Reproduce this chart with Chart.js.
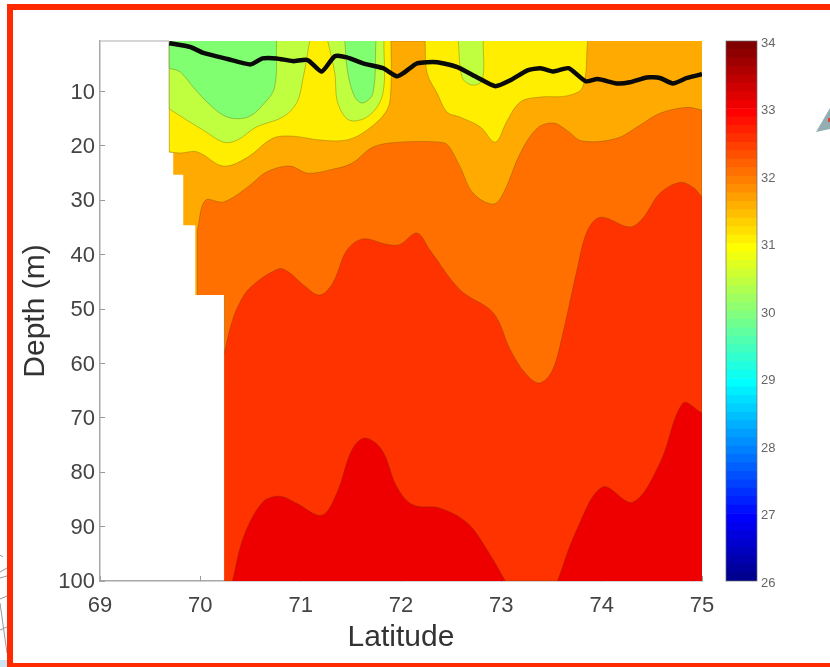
<!DOCTYPE html>
<html>
<head>
<meta charset="utf-8">
<title>Depth section</title>
<script src="https://cdn.jsdelivr.net/npm/chart.js@4/dist/chart.umd.min.js"></script>
<style>
html, body { margin: 0; padding: 0; background: #fff; width: 830px; height: 667px; overflow: hidden; }
canvas { position: absolute; top: 0; filter: blur(0.7px); }
#main { left: 0; }
#bar { left: 716px; }
#frame { position: absolute; left: 7px; top: 4px; width: 823px; height: 653px; border-top: 6px solid #ff2a00; border-left: 6px solid #ff2a00; border-bottom: 4px solid #ff2a00; }
#arrow { position: absolute; left: 816px; top: 108px; width: 14px; height: 24px; background: #93adb2; clip-path: polygon(0 100%, 100% 0, 100% 88%); }
#arrowTip { position: absolute; left: 828px; top: 118px; width: 2px; height: 4px; background: #e8432a; }
#map { position: absolute; left: 0; top: 540px; }
</style>
</head>
<body>
<svg id="map" width="7" height="127">
  <path d="M0 15L3 17M0 32L7 28M0 38L7 36M0 59L7 56M0 90L7 87M0 63L7 113" stroke="#999" fill="none"/>
  <rect x="0" y="120" width="7" height="7" fill="#cfe3f0"/>
</svg>
<canvas id="main" width="830" height="667"></canvas>
<canvas id="bar" width="114" height="667"></canvas>
<div id="frame"></div>
<div id="arrow"></div>
<div id="arrowTip"></div>
<script>
var latTicks = [69, 70, 71, 72, 73, 74, 75];
var depthTicks = [10, 20, 30, 40, 50, 60, 70, 80, 90, 100];
var barTicks = [26, 27, 28, 29, 30, 31, 32, 33, 34];

// outline of the sampled area, filled with the 31.5-32 band
var domainLat = [69.69, 75, 75, 70.24, 70.24, 69.95, 69.95, 69.83, 69.83, 69.73, 69.73, 69.69];
var domainDepth = [0.7, 0.7, 100, 100, 47.4, 47.4, 34.6, 34.6, 25.3, 25.3, 21.2, 21.2];

// a repeated point keeps the corner sharp once the curves are smoothed
var orangeLat = [69.97, 69.97, 69.97, 70.05, 70.23, 70.47, 70.66, 70.89, 71.07, 71.29, 71.51, 71.72, 71.99, 72.39, 72.47, 72.59, 72.72, 72.92, 73.02, 73.19, 73.36, 73.52, 73.65, 73.81, 74.15, 74.38, 74.58, 74.85, 75, 75, 75, 75, 70.24, 70.24, 70.24];
var orangeDepth = [47.4, 35.5, 35.5, 30.0, 30.3, 27.6, 24.8, 23.7, 25.0, 24.4, 23.2, 20.2, 19.3, 19.3, 19.9, 23.9, 28.7, 30.7, 28.7, 21.3, 16.7, 15.8, 17.1, 19.1, 18.6, 16.2, 14.0, 12.9, 13.4, 13.4, 100, 100, 100, 100, 47.4];

var redOrangeLat = [70.24, 70.30, 70.38, 70.50, 70.78, 70.88, 71.03, 71.19, 71.32, 71.46, 71.62, 71.86, 71.99, 72.16, 72.29, 72.59, 72.92, 73.09, 73.24, 73.38, 73.51, 73.62, 73.76, 73.86, 73.99, 74.28, 74.41, 74.58, 74.78, 74.91, 75, 75, 75, 75, 70.24];
var redOrangeDepth = [58.1, 53.3, 49.3, 46.0, 42.6, 43.2, 45.6, 47.4, 45.2, 39.2, 37.1, 38.1, 38.1, 36.0, 39.2, 46.5, 50.7, 57.5, 61.8, 63.6, 61.2, 53.9, 42.3, 35.5, 33.1, 34.9, 33.3, 28.7, 26.7, 27.6, 29.4, 29.4, 100, 100, 100];

var redALat = [70.32, 70.43, 70.62, 70.79, 70.96, 71.21, 71.36, 71.51, 71.64, 71.81, 71.96, 72.12, 72.39, 72.66, 72.86, 73.04];
var redADepth = [100, 91.9, 85.5, 84.4, 85.7, 87.9, 83.8, 75.9, 73.7, 75.9, 82.7, 86.0, 86.6, 89.3, 94.3, 100];
var redBLat = [73.56, 73.75, 74.01, 74.31, 74.58, 74.81, 75, 75, 75];
var redBDepth = [100, 90.6, 82.7, 85.5, 78.3, 67.3, 69.1, 69.1, 100];

var yellowLat = [69.69, 69.69, 69.69, 69.80, 69.97, 70.23, 70.47, 70.72, 70.92, 71.19, 71.46, 71.66, 71.86, 71.90, 71.90, 71.90, 72.24, 72.24, 72.26, 72.36, 72.46, 72.59, 72.79, 72.94, 73.06, 73.19, 73.39, 73.65, 73.81, 73.86];
var yellowDepth = [0.7, 21.1, 21.1, 21.3, 21.1, 23.7, 22.1, 18.6, 18.2, 18.9, 18.9, 17.1, 13.4, 9.2, 0.7, 0.7, 0.7, 0.7, 6.6, 10.3, 13.8, 14.7, 16.5, 19.3, 15.3, 11.9, 11.0, 10.8, 9.2, 0.7];

var limeALat = [69.69, 69.69, 69.69, 69.87, 70.03, 70.23, 70.37, 70.56, 70.82, 70.96, 71.02, 71.09];
var limeADepth = [0.7, 13.2, 13.2, 15.3, 17.1, 19.3, 18.9, 16.5, 14.7, 12.1, 7.9, 0.7];
var limeBLat = [71.27, 71.34, 71.37, 71.49, 71.69, 71.82, 71.83];
var limeBDepth = [0.7, 6.6, 12.1, 15.3, 14.3, 10.3, 0.7];
var limeCLat = [72.57, 72.61, 72.71, 72.81, 72.82];
var limeCDepth = [0.7, 7.4, 8.8, 7.9, 0.7];

var greenALat = [69.69, 69.69, 69.69, 69.80, 69.93, 70.10, 70.27, 70.47, 70.62, 70.74, 70.76];
var greenADepth = [0.7, 5.7, 5.7, 6.4, 9.2, 12.5, 14.7, 14.7, 12.5, 9.2, 0.7];
var greenBLat = [71.44, 71.47, 71.54, 71.62, 71.72, 71.75];
var greenBDepth = [0.7, 6.6, 11.0, 12.1, 10.3, 0.7];

// thick black line across the top
var mixedLat = [69.69, 69.90, 70.03, 70.27, 70.50, 70.62, 70.76, 70.92, 71.07, 71.21, 71.34, 71.46, 71.62, 71.82, 71.96, 72.04, 72.16, 72.36, 72.56, 72.76, 72.94, 73.09, 73.26, 73.39, 73.52, 73.67, 73.84, 73.96, 74.15, 74.28, 74.45, 74.58, 74.71, 74.85, 75];
var mixedDepth = [1.1, 1.8, 2.9, 4.0, 5.0, 3.9, 3.9, 4.4, 4.2, 6.3, 3.5, 3.7, 4.8, 5.7, 7.2, 6.4, 4.8, 4.6, 5.5, 7.4, 9.0, 7.9, 6.1, 5.7, 6.3, 5.7, 8.1, 7.7, 8.5, 8.3, 7.4, 7.5, 8.5, 7.5, 6.8];

var jetColors = [
  '#00008f', '#00009f', '#0000af', '#0000bf', '#0000cf', '#0000df', '#0000ef', '#0000ff',
  '#0010ff', '#0020ff', '#0030ff', '#0040ff', '#0050ff', '#0060ff', '#0070ff', '#0080ff',
  '#008fff', '#009fff', '#00afff', '#00bfff', '#00cfff', '#00dfff', '#00efff', '#00ffff',
  '#10ffef', '#20ffdf', '#30ffcf', '#40ffbf', '#50ffaf', '#60ff9f', '#70ff8f', '#80ff80',
  '#8fff70', '#9fff60', '#afff50', '#bfff40', '#cfff30', '#dfff20', '#efff10', '#ffff00',
  '#ffef00', '#ffdf00', '#ffcf00', '#ffbf00', '#ffaf00', '#ff9f00', '#ff8f00', '#ff8000',
  '#ff7000', '#ff6000', '#ff5000', '#ff4000', '#ff3000', '#ff2000', '#ff1000', '#ff0000',
  '#ef0000', '#df0000', '#cf0000', '#bf0000', '#af0000', '#9f0000', '#8f0000', '#800000'
];

// back to front
var bands = [
  [domainLat, domainDepth, '#ffaa00'],
  [orangeLat, orangeDepth, '#ff7000'],
  [redOrangeLat, redOrangeDepth, '#ff3300'],
  [redALat, redADepth, '#ee0000'],
  [redBLat, redBDepth, '#ee0000'],
  [yellowLat, yellowDepth, '#ffee00'],
  [limeALat, limeADepth, '#bfff40'],
  [limeBLat, limeBDepth, '#bfff40'],
  [limeCLat, limeCDepth, '#bfff40'],
  [greenALat, greenADepth, '#80ff70'],
  [greenBLat, greenBDepth, '#80ff70']
];

function toPoints(lat, depth) {
  return lat.map(function (v, i) { return { x: v, y: depth[i] }; });
}

var datasets = bands.map(function (b, i) {
  return {
    data: toPoints(b[0], b[1]),
    showLine: true,
    fill: 'shape',
    tension: i == 0 ? 0 : 0.35,
    backgroundColor: b[2],
    borderColor: i == 0 ? 'rgba(0,0,0,0)' : 'rgba(90,60,0,0.3)',
    borderWidth: 1,
    pointRadius: 0,
    order: 20 - i
  };
});
datasets.push({
  data: toPoints(mixedLat, mixedDepth),
  showLine: true,
  fill: false,
  tension: 0.2,
  borderColor: '#0a0a0a',
  borderWidth: 4.5,
  pointRadius: 0,
  order: 0
});

var boxLines = {
  id: 'boxLines',
  afterDatasetsDraw: function (chart) {
    var a = chart.chartArea, c = chart.ctx;
    c.save();
    c.strokeStyle = '#c8c8c8';
    c.lineWidth = 1.5;
    c.beginPath();
    c.moveTo(a.left, a.top);
    c.lineTo(a.left + 69, a.top);
    c.stroke();
    c.restore();
  }
};

new Chart(document.getElementById('main'), {
  type: 'scatter',
  data: { datasets: datasets },
  plugins: [boxLines],
  options: {
    responsive: false,
    animation: false,
    layout: { padding: { top: 41, right: 128, bottom: 0, left: 0 } },
    plugins: { legend: { display: false }, tooltip: { enabled: false } },
    scales: {
      x: {
        type: 'linear',
        min: 69,
        max: 75,
        afterFit: function (s) { s.height = 86; },
        afterBuildTicks: function (s) { s.ticks = latTicks.map(function (v) { return { value: v }; }); },
        border: { color: '#a8a8a8', width: 1.5 },
        grid: { drawOnChartArea: false, tickLength: -5, color: '#999' },
        ticks: { color: '#444', padding: 17, maxRotation: 0, font: { family: 'Liberation Sans', size: 22 } },
        title: { display: true, text: 'Latitude', color: '#333', padding: { top: 0, bottom: 11 }, font: { family: 'Liberation Sans', size: 30 } }
      },
      y: {
        type: 'linear',
        reverse: true,
        min: 0.7,
        max: 100,
        afterFit: function (s) { s.width = 100; },
        afterBuildTicks: function (s) { s.ticks = depthTicks.map(function (v) { return { value: v }; }); },
        border: { color: '#a8a8a8', width: 1.5 },
        grid: { drawOnChartArea: false, tickLength: -5, color: '#999' },
        ticks: { color: '#444', padding: 10, labelOffset: 1, font: { family: 'Liberation Sans', size: 22 } },
        title: { display: true, text: 'Depth (m)', color: '#333', padding: { top: 18, bottom: 18 }, font: { family: 'Liberation Sans', size: 30 } }
      }
    }
  }
});

var barOutline = {
  id: 'barOutline',
  afterDatasetsDraw: function (chart) {
    var a = chart.chartArea, c = chart.ctx;
    c.save();
    c.strokeStyle = 'rgba(110,110,110,0.7)';
    c.lineWidth = 1;
    c.strokeRect(a.left, a.top, a.right - a.left, a.bottom - a.top);
    c.restore();
  }
};

// colour scale, one bar per colormap step
new Chart(document.getElementById('bar'), {
  type: 'bar',
  data: {
    labels: ['s'],
    datasets: jetColors.map(function (col, i) {
      return { data: [[26 + i / 8, 26 + (i + 1) / 8]], backgroundColor: col, borderWidth: 0 };
    })
  },
  plugins: [barOutline],
  options: {
    responsive: false,
    animation: false,
    layout: { padding: { top: 41, right: 0, bottom: 86, left: 10 } },
    plugins: { legend: { display: false }, tooltip: { enabled: false } },
    datasets: { bar: { grouped: false, barPercentage: 1, categoryPercentage: 1 } },
    scales: {
      x: { display: false },
      y: {
        position: 'right',
        min: 26,
        max: 34,
        afterFit: function (s) { s.width = 73; },
        afterBuildTicks: function (s) { s.ticks = barTicks.map(function (v) { return { value: v }; }); },
        border: { display: false },
        grid: { drawOnChartArea: false, drawTicks: false },
        ticks: { color: '#666', padding: 4, labelOffset: 2, font: { family: 'Liberation Sans', size: 13 } }
      }
    }
  }
});
</script>
</body>
</html>
